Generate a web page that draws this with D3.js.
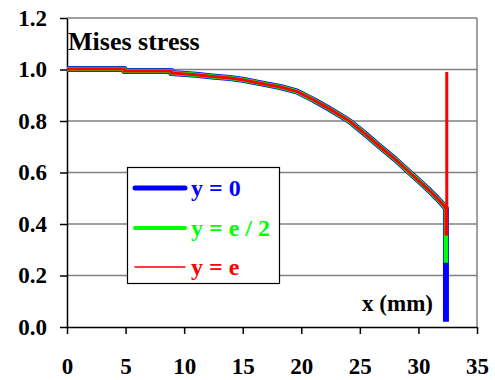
<!DOCTYPE html>
<html>
<head>
<meta charset="utf-8">
<script src="https://cdn.jsdelivr.net/npm/d3@7"></script>
<style>
  body { margin: 0; background: #fff; }
</style>
</head>
<body>
<div id="chart"></div>
<script>
// shared part of the curve (x in mm, normalised Mises stress)
const curveX = [0, 4.9, 4.9, 8.9, 8.9, 11, 12.4, 13.9, 15, 16.7, 18.2, 19.6, 21, 22.4, 24.1, 25.4, 26.7, 28, 29.25, 30.1, 31, 31.6, 32.1, 32.35];
const curveY = [1.002, 1.002, 0.994, 0.994, 0.986, 0.98, 0.973, 0.967, 0.96, 0.945, 0.932, 0.915, 0.883, 0.847, 0.8, 0.752, 0.701, 0.652, 0.6, 0.565, 0.527, 0.5, 0.475, 0.46];

// tail of each series at the edge
const tailBlueX = [32.35, 32.35];
const tailBlueY = [0.46, 0.02];
const tailGreenX = [32.35, 32.35];
const tailGreenY = [0.46, 0.25];
const tailRedX = [32.35, 32.35, 32.42, 32.42];
const tailRedY = [0.46, 0.36, 0.36, 0.99];

const seriesNames = ["y = 0", "y = e / 2", "y = e"];
const seriesColors = ["#0000ff", "#00ff00", "#ff0000"];
const seriesWidths = [6, 4.5, 3];

const xTicks = [0, 5, 10, 15, 20, 25, 30, 35];
const yTicks = [0, 0.2, 0.4, 0.6, 0.8, 1.0, 1.2];

const font = "Liberation Serif";
const width = 495, height = 380;
const margin = { top: 18, right: 18, bottom: 53, left: 67 };

const svg = d3.select("#chart").append("svg")
    .attr("width", width)
    .attr("height", height);

const x = d3.scaleLinear()
    .domain([0, 35])
    .range([margin.left, width - margin.right]);

const y = d3.scaleLinear()
    .domain([0, 1.2])
    .range([height - margin.bottom, margin.top]);

// gridlines
svg.append("g")
    .selectAll("line")
    .data(yTicks.filter(d => d > 0))
    .join("line")
    .attr("x1", x(0)).attr("x2", x(35))
    .attr("y1", d => y(d)).attr("y2", d => y(d))
    .attr("stroke", "#808080")
    .attr("stroke-width", 1.5);

// right border
svg.append("line")
    .attr("x1", x(35)).attr("x2", x(35))
    .attr("y1", y(1.2)).attr("y2", y(0))
    .attr("stroke", "#808080")
    .attr("stroke-width", 1.5);

const xAxis = svg.append("g")
    .attr("transform", `translate(0,${y(0)})`)
    .call(d3.axisBottom(x).tickValues(xTicks).tickFormat(d3.format("d")).tickSize(7).tickPadding(24).tickSizeOuter(0));

const yAxis = svg.append("g")
    .attr("transform", `translate(${x(0)},0)`)
    .call(d3.axisLeft(y).tickValues(yTicks).tickFormat(d3.format(".1f")).tickSize(7).tickPadding(13).tickSizeOuter(0));

[xAxis, yAxis].forEach(g => {
  g.attr("font-family", font).attr("font-size", 23).attr("font-weight", "bold");
  g.selectAll(".domain").attr("stroke", "#000").attr("stroke-width", 1.5);
  g.selectAll(".tick line").attr("stroke", "#000").attr("stroke-width", 1.5);
  g.selectAll(".tick text").attr("fill", "#000");
});

const line = d3.line()
    .x(d => x(d[0]))
    .y(d => y(d[1]));

const tails = [[tailBlueX, tailBlueY], [tailGreenX, tailGreenY], [tailRedX, tailRedY]];
tails.forEach((t, i) => {
  const pts = curveX.map((v, j) => [v, curveY[j]])
      .concat(t[0].map((v, j) => [v, t[1][j]]).slice(1));
  svg.append("path")
      .datum(pts)
      .attr("fill", "none")
      .attr("stroke", seriesColors[i])
      .attr("stroke-width", seriesWidths[i])
      .attr("stroke-linejoin", "round")
      .attr("d", line);
});

// labels
svg.append("text")
    .attr("x", 68).attr("y", 50)
    .attr("font-family", font).attr("font-weight", "bold")
    .attr("font-size", 26)
    .text("Mises stress");

svg.append("text")
    .attr("x", 433).attr("y", 311)
    .attr("text-anchor", "end")
    .attr("font-family", font).attr("font-weight", "bold")
    .attr("font-size", 23)
    .text("x (mm)");

// legend
const legend = svg.append("g");
legend.append("rect")
    .attr("x", 127.5).attr("y", 167.5)
    .attr("width", 152).attr("height", 116)
    .attr("fill", "#fff")
    .attr("stroke", "#000")
    .attr("stroke-width", 1.2);

const legendY = [188, 228, 267];
const legendWidths = [5, 4, 1.5];
seriesNames.forEach((name, i) => {
  legend.append("line")
      .attr("x1", 135).attr("x2", 185)
      .attr("y1", legendY[i]).attr("y2", legendY[i])
      .attr("stroke", seriesColors[i])
      .attr("stroke-width", legendWidths[i])
      .attr("stroke-linecap", "round");
  legend.append("text")
      .attr("x", 191).attr("y", legendY[i] + 8)
      .attr("font-family", font).attr("font-weight", "bold")
      .attr("font-size", 24)
      .attr("fill", seriesColors[i])
      .text(name);
});
</script>
</body>
</html>
